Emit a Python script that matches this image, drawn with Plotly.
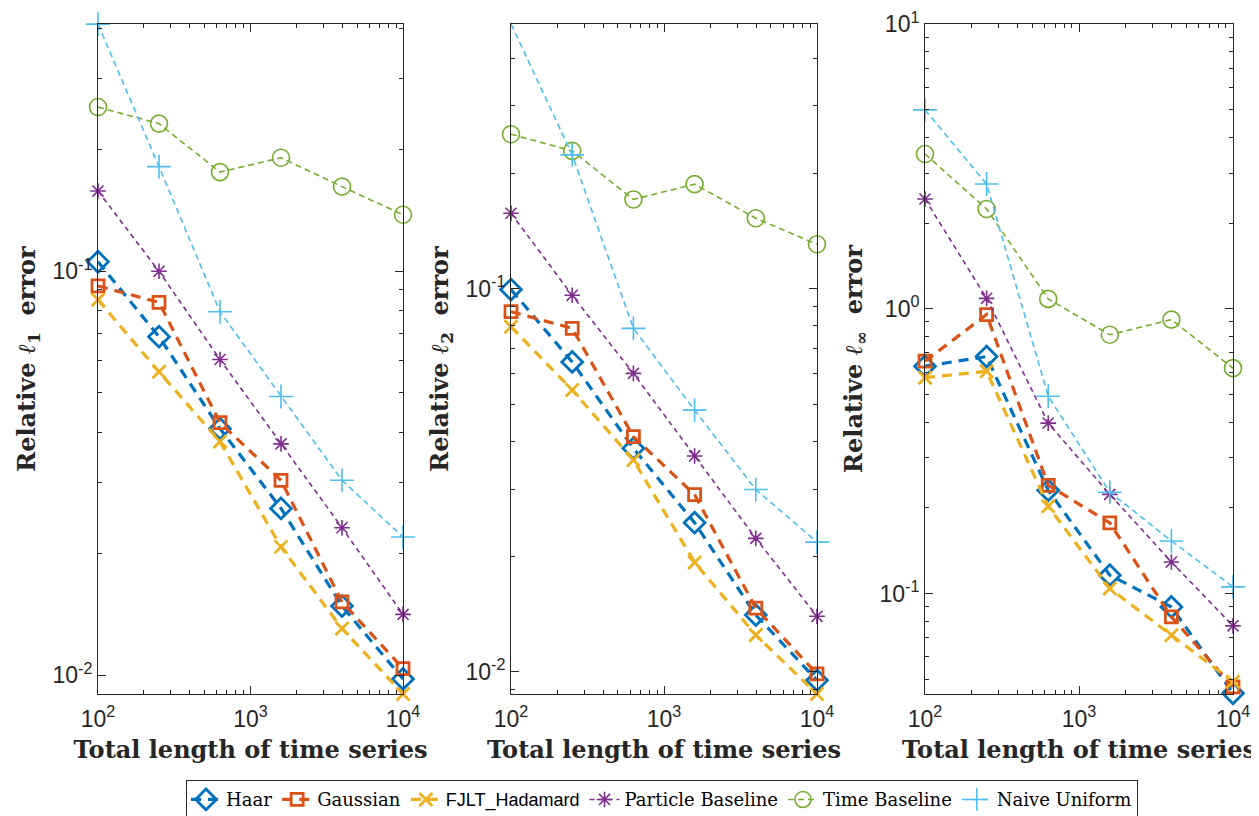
import plotly.graph_objects as go

# ---------------- data ----------------
series_length = [100, 251.2, 631.0, 1584.9, 3981.1, 10000]

names = ["Haar", "Gaussian", "FJLT_Hadamard", "Particle Baseline", "Time Baseline", "Naive Uniform"]

# panel 1: relative l1 error
l1_haar = [0.1056, 0.0689, 0.0408, 0.0259, 0.01485, 0.0098]
l1_gauss = [0.0920, 0.0838, 0.0422, 0.0304, 0.0152, 0.0104]
l1_fjlt = [0.0850, 0.0564, 0.0379, 0.0208, 0.01306, 0.0090]
l1_particle = [0.158, 0.100, 0.0605, 0.0374, 0.0232, 0.01416]
l1_time = [0.255, 0.232, 0.176, 0.191, 0.162, 0.138]
l1_naive = [0.409, 0.1816, 0.0794, 0.0490, 0.0304, 0.0220]

# panel 2: relative l2 error
l2_haar = [0.0995, 0.0644, 0.0383, 0.0245, 0.01406, 0.0095]
l2_gauss = [0.0871, 0.0788, 0.0411, 0.0290, 0.01466, 0.00987]
l2_fjlt = [0.0796, 0.0544, 0.0357, 0.0193, 0.01247, 0.00875]
l2_particle = [0.1574, 0.0961, 0.0601, 0.0366, 0.0223, 0.01396]
l2_time = [0.253, 0.229, 0.171, 0.1875, 0.1527, 0.1306]
l2_naive = [0.491, 0.2235, 0.0788, 0.0482, 0.0299, 0.0218]

# panel 3: relative l_inf error
li_haar = [0.629, 0.680, 0.2304, 0.1160, 0.0897, 0.0446]
li_gauss = [0.655, 0.955, 0.240, 0.177, 0.0828, 0.0470]
li_fjlt = [0.573, 0.604, 0.2024, 0.1042, 0.0714, 0.0490]
li_particle = [2.432, 1.089, 0.397, 0.223, 0.129, 0.077]
li_time = [3.50, 2.244, 1.084, 0.811, 0.917, 0.619]
li_naive = [5.0, 2.746, 0.4935, 0.227, 0.1530, 0.1055]

panels = [
    [l1_haar, l1_gauss, l1_fjlt, l1_particle, l1_time, l1_naive],
    [l2_haar, l2_gauss, l2_fjlt, l2_particle, l2_time, l2_naive],
    [li_haar, li_gauss, li_fjlt, li_particle, li_time, li_naive],
]

y_titles = ["Relative <i>ℓ</i><sub>1</sub>  error",
            "Relative <i>ℓ</i><sub>2</sub>  error",
            "Relative <i>ℓ</i><sub>∞</sub>  error"]
x_title = "Total length of time series"

x_tickvals = [100, 1000, 10000]
x_ticktext = ["10<sup>2</sup>", "10<sup>3</sup>", "10<sup>4</sup>"]
y_tickvals = [[0.01, 0.1], [0.01, 0.1], [0.1, 1, 10]]
y_ticktext = [["10<sup>-2</sup>", "10<sup>-1</sup>"],
              ["10<sup>-2</sup>", "10<sup>-1</sup>"],
              ["10<sup>-1</sup>", "10<sup>0</sup>", "10<sup>1</sup>"]]

# axis ranges (log10)
y_ranges = [[-2.046, -0.388], [-2.058, -0.309], [-1.353, 1.0008]]

# ---------------- styles ----------------
colors = ["#0072BD", "#D95319", "#EDB120", "#7E2F8E", "#77AC30", "#4DBEEE"]
symbols = ["diamond-open", "square-open", "x-thin-open", "asterisk-open", "circle-open", "cross-thin-open"]
msizes = [16, 12, 13, 13, 17, 17]
mlw = [2.8, 2.8, 2.8, 1.6, 1.6, 1.6]
lwidths = [3.2, 3.2, 3.2, 1.6, 1.6, 1.6]
dashes = ["10px,7px", "10px,7px", "10px,7px", "5px,4px", "6px,4px", "6px,4px"]

legend_names = [
    "Haar", "Gaussian",
    '<span style="font-family:Liberation Sans, Arial, sans-serif">FJLT_Hadamard</span>',
    "Particle Baseline", "Time Baseline", "Naive Uniform",
]

# page body has an 8px margin: work in screen pixels and subtract it
OFF = 8
W, H = 1259 - OFF, 816 - OFF


def xd(a, b):
    return [(a - OFF) / W, (b - OFF) / W]


x_doms = [xd(98, 403), xd(511, 817), xd(925, 1233)]
y_dom = [(H - (694 - OFF)) / H, (H - (24 - OFF)) / H]

fig = go.Figure()

for p, pdata in enumerate(panels):
    sfx = "" if p == 0 else str(p + 1)
    for k, vals in enumerate(pdata):
        fig.add_trace(go.Scatter(
            x=series_length, y=vals,
            xaxis="x" + sfx, yaxis="y" + sfx,
            mode="lines+markers",
            name=legend_names[k],
            legendgroup=names[k],
            showlegend=(p == 0),
            cliponaxis=False,
            line=dict(color=colors[k], width=lwidths[k], dash=dashes[k]),
            marker=dict(symbol=symbols[k], size=msizes[k], color=colors[k],
                        line=dict(color=colors[k], width=mlw[k])),
        ))

axis_color = "#262626"
tick_font = dict(family="Liberation Sans, Arial, sans-serif", size=23, color=axis_color)
title_font = dict(family="DejaVu Serif, serif", size=24, color=axis_color, weight="bold")

layout = dict(
    width=W, height=H,
    margin=dict(l=0, r=0, t=0, b=0, autoexpand=False),
    paper_bgcolor="white", plot_bgcolor="white",
    showlegend=True,
    legend=dict(
        orientation="h", x=(662 - OFF) / W, y=-0.004, xanchor="center", yanchor="bottom",
        bordercolor=axis_color, borderwidth=1, bgcolor="white",
        font=dict(family="DejaVu Serif, serif", size=18, color="black"),
        itemwidth=30, tracegroupgap=0,
    ),
)

for p in range(3):
    sfx = "" if p == 0 else str(p + 1)
    layout["xaxis" + sfx] = dict(
        type="log", domain=x_doms[p], range=[2, 4], anchor="y" + sfx,
        tickvals=x_tickvals, ticktext=x_ticktext, automargin=False,
        ticklabeloverflow="allow",
        showgrid=False, zeroline=False,
        showline=True, linecolor=axis_color, linewidth=1, mirror="allticks",
        ticks="inside", ticklen=8, tickcolor=axis_color,
        minor=dict(ticks="inside", ticklen=4, tickcolor=axis_color, dtick="D1", showgrid=False),
        tickfont=tick_font, ticklabelstandoff=4,
        title=dict(text="<b>" + x_title + "</b>", font=title_font, standoff=10),
    )
    layout["yaxis" + sfx] = dict(
        type="log", domain=y_dom, range=y_ranges[p], anchor="x" + sfx,
        tickvals=y_tickvals[p], ticktext=y_ticktext[p], automargin=False,
        ticklabeloverflow="allow",
        showgrid=False, zeroline=False,
        showline=True, linecolor=axis_color, linewidth=1, mirror="allticks",
        ticks="inside", ticklen=8, tickcolor=axis_color,
        minor=dict(ticks="inside", ticklen=4, tickcolor=axis_color, dtick="D1", showgrid=False),
        tickfont=tick_font,
        title=dict(text="<b>" + y_titles[p] + "</b>", font=title_font, standoff=10),
    )

fig.update_layout(**layout)
fig.write_html("out.html")
